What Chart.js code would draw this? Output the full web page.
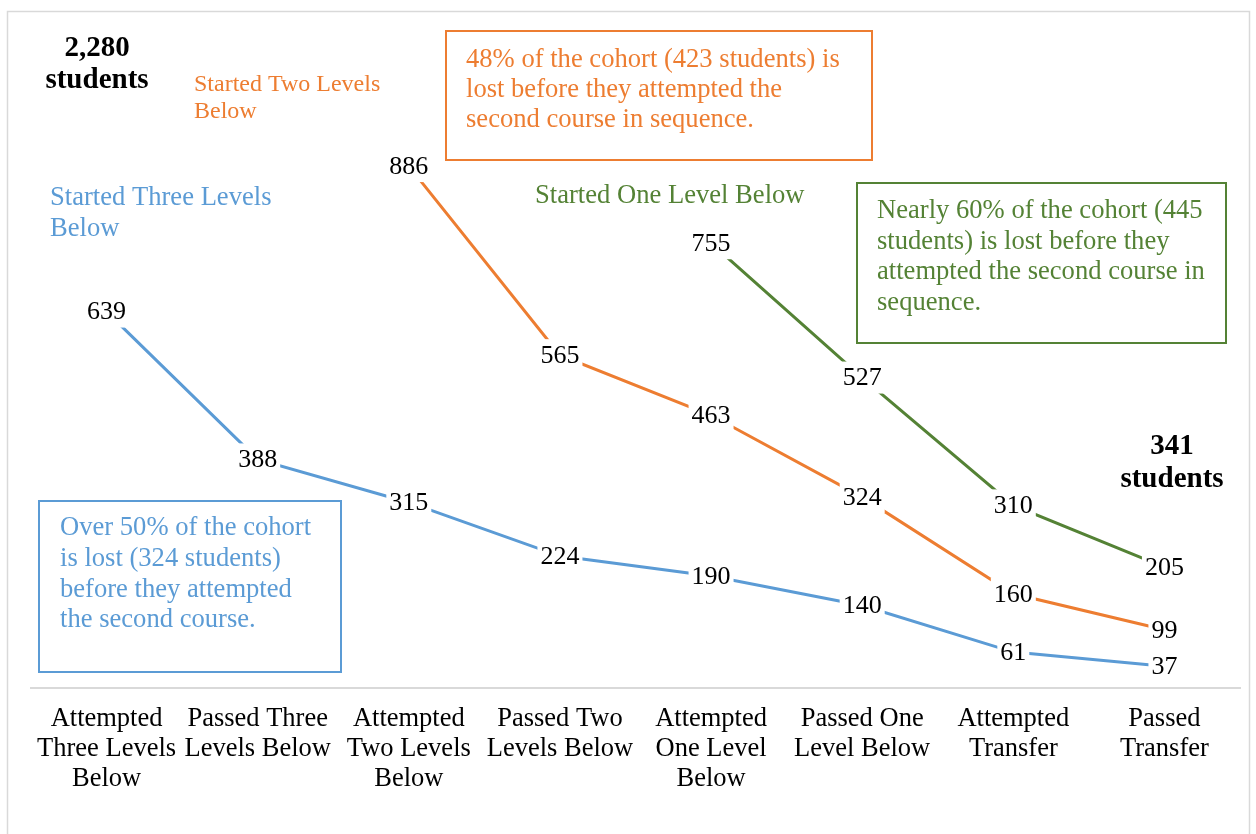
<!DOCTYPE html>
<html>
<head>
<meta charset="utf-8">
<script src="https://cdn.jsdelivr.net/npm/chart.js@4"></script>
<style>
    body { margin: 0; background: #fff; }
    #wrap { width: 1256px; height: 834px; position: relative; }
</style>
</head>
<body>
<div id="wrap"><canvas id="cohortChart"></canvas></div>
<script>
// categories along the sequence
const categories = [
    ['Attempted', 'Three Levels', 'Below'],
    ['Passed Three', 'Levels Below'],
    ['Attempted', 'Two Levels', 'Below'],
    ['Passed Two', 'Levels Below'],
    ['Attempted', 'One Level', 'Below'],
    ['Passed One', 'Level Below'],
    ['Attempted', 'Transfer'],
    ['Passed', 'Transfer']
];

// students left at each step, by starting level
const threeBelow = [639, 388, 315, 224, 190, 140, 61, 37];
const twoBelow = [null, null, 886, 565, 463, 324, 160, 99];
const oneBelow = [null, null, null, null, 755, 527, 310, 205];

const blue = '#5B9BD5';
const orange = '#ED7D31';
const green = '#548235';
const serif = '"Liberation Serif", "Times New Roman", serif';

/**
 * write some lines of text starting at x, one baseline per line
 */
let writeLines = function (ctx, lines, x, baselines, color, font, align) {
    ctx.fillStyle = color;
    ctx.font = font;
    ctx.textAlign = align || 'left';
    ctx.textBaseline = 'alphabetic';
    for (let i = 0; i < lines.length; i++) {
        ctx.fillText(lines[i], x, baselines[i]);
    }
};

// value labels sitting on the points, with a white patch behind them
let valueLabels = {
    id: 'valueLabels',
    afterDatasetsDraw: function (chart) {
        let ctx = chart.ctx;
        ctx.save();
        ctx.font = '26px ' + serif;
        ctx.textAlign = 'center';
        ctx.textBaseline = 'middle';
        chart.data.datasets.forEach(function (ds, di) {
            let meta = chart.getDatasetMeta(di);
            meta.data.forEach(function (pt, i) {
                if (ds.data[i] === null) {
                    return;
                }
                let text = String(ds.data[i]);
                let w = ctx.measureText(text).width + 6;
                ctx.fillStyle = '#fff';
                ctx.fillRect(pt.x - w / 2, pt.y - 16, w, 32);
                ctx.fillStyle = '#000';
                ctx.fillText(text, pt.x, pt.y + 1);
            });
        });
        ctx.restore();
    }
};

// frame, series names and the three call-out boxes
let notes = {
    id: 'notes',
    beforeDraw: function (chart) {
        let ctx = chart.ctx;
        ctx.save();
        ctx.fillStyle = '#fff';
        ctx.fillRect(0, 0, chart.width, chart.height);
        ctx.strokeStyle = '#d9d9d9';
        ctx.lineWidth = 1.5;
        ctx.strokeRect(7.5, 11.5, 1242, 900);
        ctx.restore();
    },
    afterDraw: function (chart) {
        let ctx = chart.ctx;
        ctx.save();
        let bold = 'bold 29px ' + serif;
        let normal = '26.6px ' + serif;

        writeLines(ctx, ['2,280', 'students'], 97, [56, 88], '#000', bold, 'center');
        writeLines(ctx, ['341', 'students'], 1172, [454, 487], '#000', bold, 'center');

        writeLines(ctx, ['Started Two Levels', 'Below'], 194, [91, 118], orange, '24px ' + serif);
        writeLines(ctx, ['Started Three Levels', 'Below'], 50, [205, 236], blue, normal);
        writeLines(ctx, ['Started One Level Below'], 535, [203], green, normal);

        ctx.lineWidth = 2;
        ctx.strokeStyle = orange;
        ctx.strokeRect(446, 31, 426, 129);
        writeLines(ctx, ['48% of the cohort (423 students) is', 'lost before they attempted the', 'second course in sequence.'],
            466, [67, 97, 127], orange, normal);

        ctx.strokeStyle = green;
        ctx.strokeRect(857, 183, 369, 160);
        writeLines(ctx, ['Nearly 60% of the cohort (445', 'students) is lost before they', 'attempted the second course in', 'sequence.'],
            877, [218, 249, 279, 310], green, normal);

        ctx.strokeStyle = blue;
        ctx.strokeRect(39, 501, 302, 171);
        writeLines(ctx, ['Over 50% of the cohort', 'is lost (324 students)', 'before they attempted', 'the second course.'],
            60, [535, 566, 597, 627], blue, normal);
        ctx.restore();
    }
};

let ctx = document.getElementById('cohortChart').getContext('2d');
let cohortChart = new Chart(ctx, {
    type: 'line',
    data: {
        labels: categories,
        datasets: [
            { label: 'Started Three Levels Below', data: threeBelow, borderColor: blue },
            { label: 'Started Two Levels Below', data: twoBelow, borderColor: orange },
            { label: 'Started One Level Below', data: oneBelow, borderColor: green }
        ]
    },
    options: {
        responsive: true,
        maintainAspectRatio: false,
        animation: false,
        layout: { padding: { top: 40, left: 31, right: 16, bottom: 40 }, autoPadding: false },
        elements: {
            line: { borderWidth: 3, tension: 0 },
            point: { radius: 0, hoverRadius: 0 }
        },
        plugins: {
            legend: { display: false },
            tooltip: { enabled: false }
        },
        scales: {
            x: {
                offset: true,
                grid: { display: false, drawTicks: false },
                border: { display: true, color: '#d9d9d9', width: 2 },
                ticks: {
                    autoSkip: false,
                    maxRotation: 0,
                    padding: 16,
                    color: '#000',
                    font: { family: serif, size: 26.5, lineHeight: '30px' }
                },
                afterFit: function (scale) {
                    scale.height = 106;
                }
            },
            y: {
                display: false,
                min: 0,
                max: 1100
            }
        }
    },
    plugins: [notes, valueLabels]
});
</script>
</body>
</html>
